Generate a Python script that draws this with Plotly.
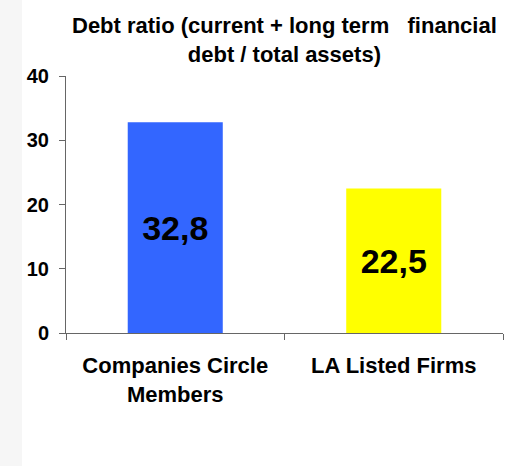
import plotly.graph_objects as go

categories = ["Companies Circle<br>Members", "LA Listed Firms"]
values = [32.8, 22.5]
value_labels = ["32,8", "22,5"]
bar_colors = ["#3366FF", "#FFFF00"]
title_text = "Debt ratio (current + long term   financial<br>debt / total assets)"
y_ticks = [0, 10, 20, 30, 40]

FONT = "Arial, 'Liberation Sans', sans-serif"

fig = go.Figure(go.Bar(
    x=categories, y=values, marker_color=bar_colors, marker_line_width=0,
    text=value_labels, textposition="inside", insidetextanchor="middle",
    textfont=dict(family=FONT, size=34, color="black", weight="bold"),
    cliponaxis=False, width=0.435,
))

W, H = 508, 466
ml, mr, mt, mb = 66, 5, 76, 133
plot_w = W - ml - mr
plot_h = H - mt - mb

fig.update_layout(
    width=W, height=H,
    margin=dict(l=ml, r=mr, t=mt, b=mb, pad=0),
    paper_bgcolor="white", plot_bgcolor="white",
    showlegend=False,
    font=dict(family=FONT, color="black"),
    xaxis=dict(
        type="category", tickson="boundaries", ticks="outside", ticklen=6,
        tickcolor="#666666", showline=True, linecolor="#666666", linewidth=1,
        showgrid=False, tickfont=dict(size=22, weight="bold"),
        ticklabelstandoff=13,
    ),
    yaxis=dict(
        range=[0, 40], tickvals=y_ticks, ticks="outside", ticklen=6,
        tickcolor="#666666", showline=True, linecolor="#666666", linewidth=1,
        showgrid=False, zeroline=False, tickfont=dict(size=20, weight="bold"),
        ticklabelstandoff=6,
    ),
    shapes=[dict(type="rect", xref="paper", yref="paper",
                 x0=-ml / plot_w, x1=(22 - ml) / plot_w,
                 y0=-mb / plot_h, y1=1 + mt / plot_h,
                 fillcolor="#F6F6F6", line_width=0, layer="below")],
)

fig.add_annotation(
    text=title_text, xref="paper", yref="paper",
    x=0.5, y=1 + (mt - 40) / plot_h,
    showarrow=False, xanchor="center", yanchor="middle",
    font=dict(size=22, weight="bold", family=FONT),
)

fig.write_html("out.html", config={"displayModeBar": False},
               post_script="document.body.style.margin='0';")
